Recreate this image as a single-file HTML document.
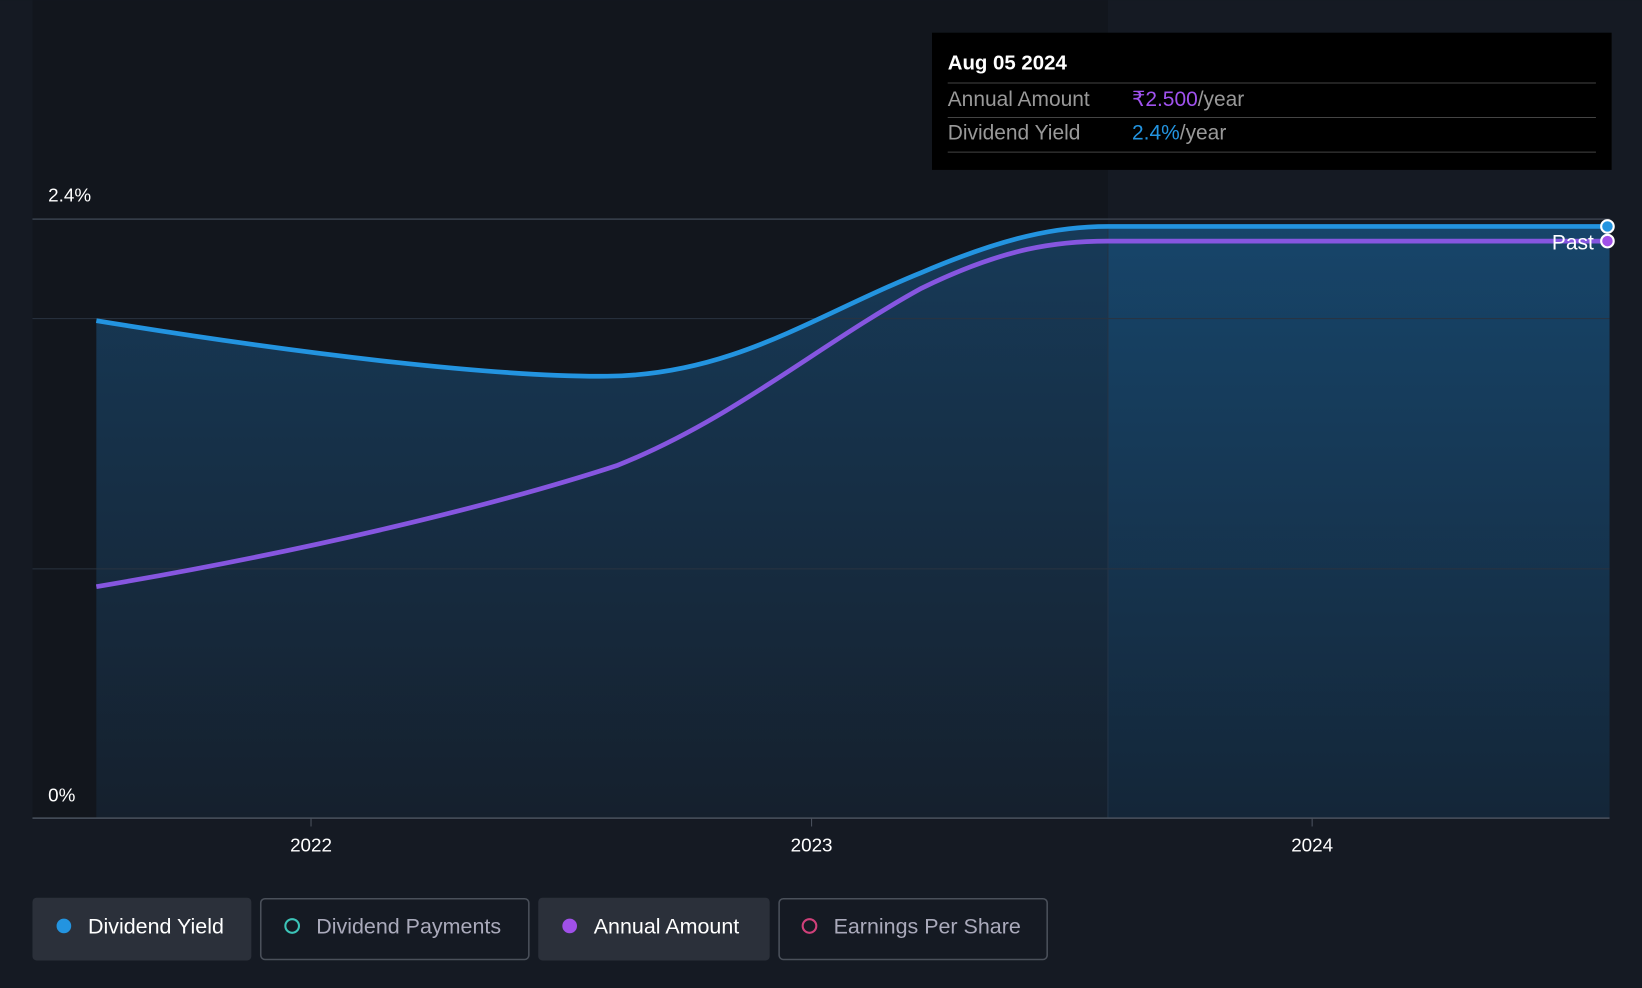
<!DOCTYPE html>
<html><head><meta charset="utf-8"><style>
html,body{margin:0;padding:0;background:#151a23;}
svg{display:block;}
text{font-family:"Liberation Sans",sans-serif;}
</style></head><body>
<svg width="1642" height="988" viewBox="0 0 1568 943" xmlns="http://www.w3.org/2000/svg">
<defs>
<linearGradient id="fill" x1="0" y1="0" x2="0" y2="1">
<stop offset="0" stop-color="#173a58"/><stop offset="1" stop-color="#15202d"/>
</linearGradient>
<linearGradient id="fill2" x1="0" y1="0" x2="0" y2="1">
<stop offset="0" stop-color="#17456a"/><stop offset="1" stop-color="#142638"/>
</linearGradient>
</defs>
<rect width="1568" height="943" fill="#151a23"/>
<rect x="31" y="0" width="1027" height="782" fill="#12161d"/>
<path d="M92,306 C300,340 480,360 580,359 C700,358 780,300 880,260 C960,226 1010,216 1058,216 L1058,781 L92,781 Z" fill="url(#fill)"/>
<rect x="1058" y="216" width="479" height="565" fill="url(#fill2)"/>
<line x1="1058" y1="216" x2="1058" y2="781" stroke="#243447" stroke-width="1"/>
<line x1="31" y1="209" x2="1537" y2="209" stroke="#3a424e" stroke-width="1.5"/>
<line x1="31" y1="304" x2="1537" y2="304" stroke="#2a3340" stroke-width="1"/>
<line x1="31" y1="543" x2="1537" y2="543" stroke="#2a3340" stroke-width="1"/>
<line x1="31" y1="781" x2="1537" y2="781" stroke="#4a525e" stroke-width="1.5"/>
<line x1="297" y1="781" x2="297" y2="789" stroke="#4a525e"/>
<line x1="775" y1="781" x2="775" y2="789" stroke="#4a525e"/>
<line x1="1253" y1="781" x2="1253" y2="789" stroke="#4a525e"/>
<path d="M92,306 C300,340 480,360 580,359 C700,358 780,300 880,260 C960,226 1010,216 1058,216 L1535,216" fill="none" stroke="#2394e0" stroke-width="4.5"/>
<path d="M92,560 C300,525 480,480 590,444 C700,400 780,330 880,275 C960,236 1010,230 1058,230 L1535,230" fill="none" stroke="#8656e0" stroke-width="4.5"/>
<circle cx="1535" cy="216" r="6" fill="#2394e0" stroke="#fff" stroke-width="2"/>
<circle cx="1535" cy="230" r="6" fill="#a050e8" stroke="#fff" stroke-width="2"/>
<text x="1522" y="238" fill="#fff" font-size="20" text-anchor="end">Past</text>
<text x="46" y="192" fill="#fff" font-size="18">2.4%</text>
<text x="46" y="765" fill="#fff" font-size="18">0%</text>
<text x="297" y="813" fill="#fff" font-size="18" text-anchor="middle">2022</text>
<text x="775" y="813" fill="#fff" font-size="18" text-anchor="middle">2023</text>
<text x="1253" y="813" fill="#fff" font-size="18" text-anchor="middle">2024</text>
<rect x="890" y="31" width="649" height="131" fill="#000"/>
<text x="905" y="66" fill="#fff" font-size="19.5" font-weight="bold">Aug 05 2024</text>
<line x1="905" y1="79" x2="1524" y2="79" stroke="#444"/>
<text x="905" y="101" fill="#999" font-size="20">Annual Amount</text>
<text x="1081" y="101" font-size="20"><tspan fill="#a052ee">₹2.500</tspan><tspan fill="#999">/year</tspan></text>
<line x1="905" y1="112" x2="1524" y2="112" stroke="#444"/>
<text x="905" y="133" fill="#999" font-size="20">Dividend Yield</text>
<text x="1081" y="133" font-size="20"><tspan fill="#2394e0">2.4%</tspan><tspan fill="#999">/year</tspan></text>
<line x1="905" y1="145" x2="1524" y2="145" stroke="#444"/>
<rect x="31" y="857" width="209" height="60" rx="4" fill="#2b303a"/>
<circle cx="61" cy="884" r="7" fill="#2394e0"/>
<text x="84" y="891" fill="#fff" font-size="20.5">Dividend Yield</text>
<rect x="249" y="858" width="256" height="58" rx="4" fill="none" stroke="#4a505a" stroke-width="1.5"/>
<circle cx="279" cy="884" r="6.5" fill="none" stroke="#3cc4b8" stroke-width="2"/>
<text x="302" y="891" fill="#aab" font-size="20.5">Dividend Payments</text>
<rect x="514" y="857" width="221" height="60" rx="4" fill="#2b303a"/>
<circle cx="544" cy="884" r="7" fill="#a050e8"/>
<text x="567" y="891" fill="#fff" font-size="20.5">Annual Amount</text>
<rect x="744" y="858" width="256" height="58" rx="4" fill="none" stroke="#4a505a" stroke-width="1.5"/>
<circle cx="773" cy="884" r="6.5" fill="none" stroke="#d0407a" stroke-width="2"/>
<text x="796" y="891" fill="#aab" font-size="20.5">Earnings Per Share</text>
</svg>
</body></html>
